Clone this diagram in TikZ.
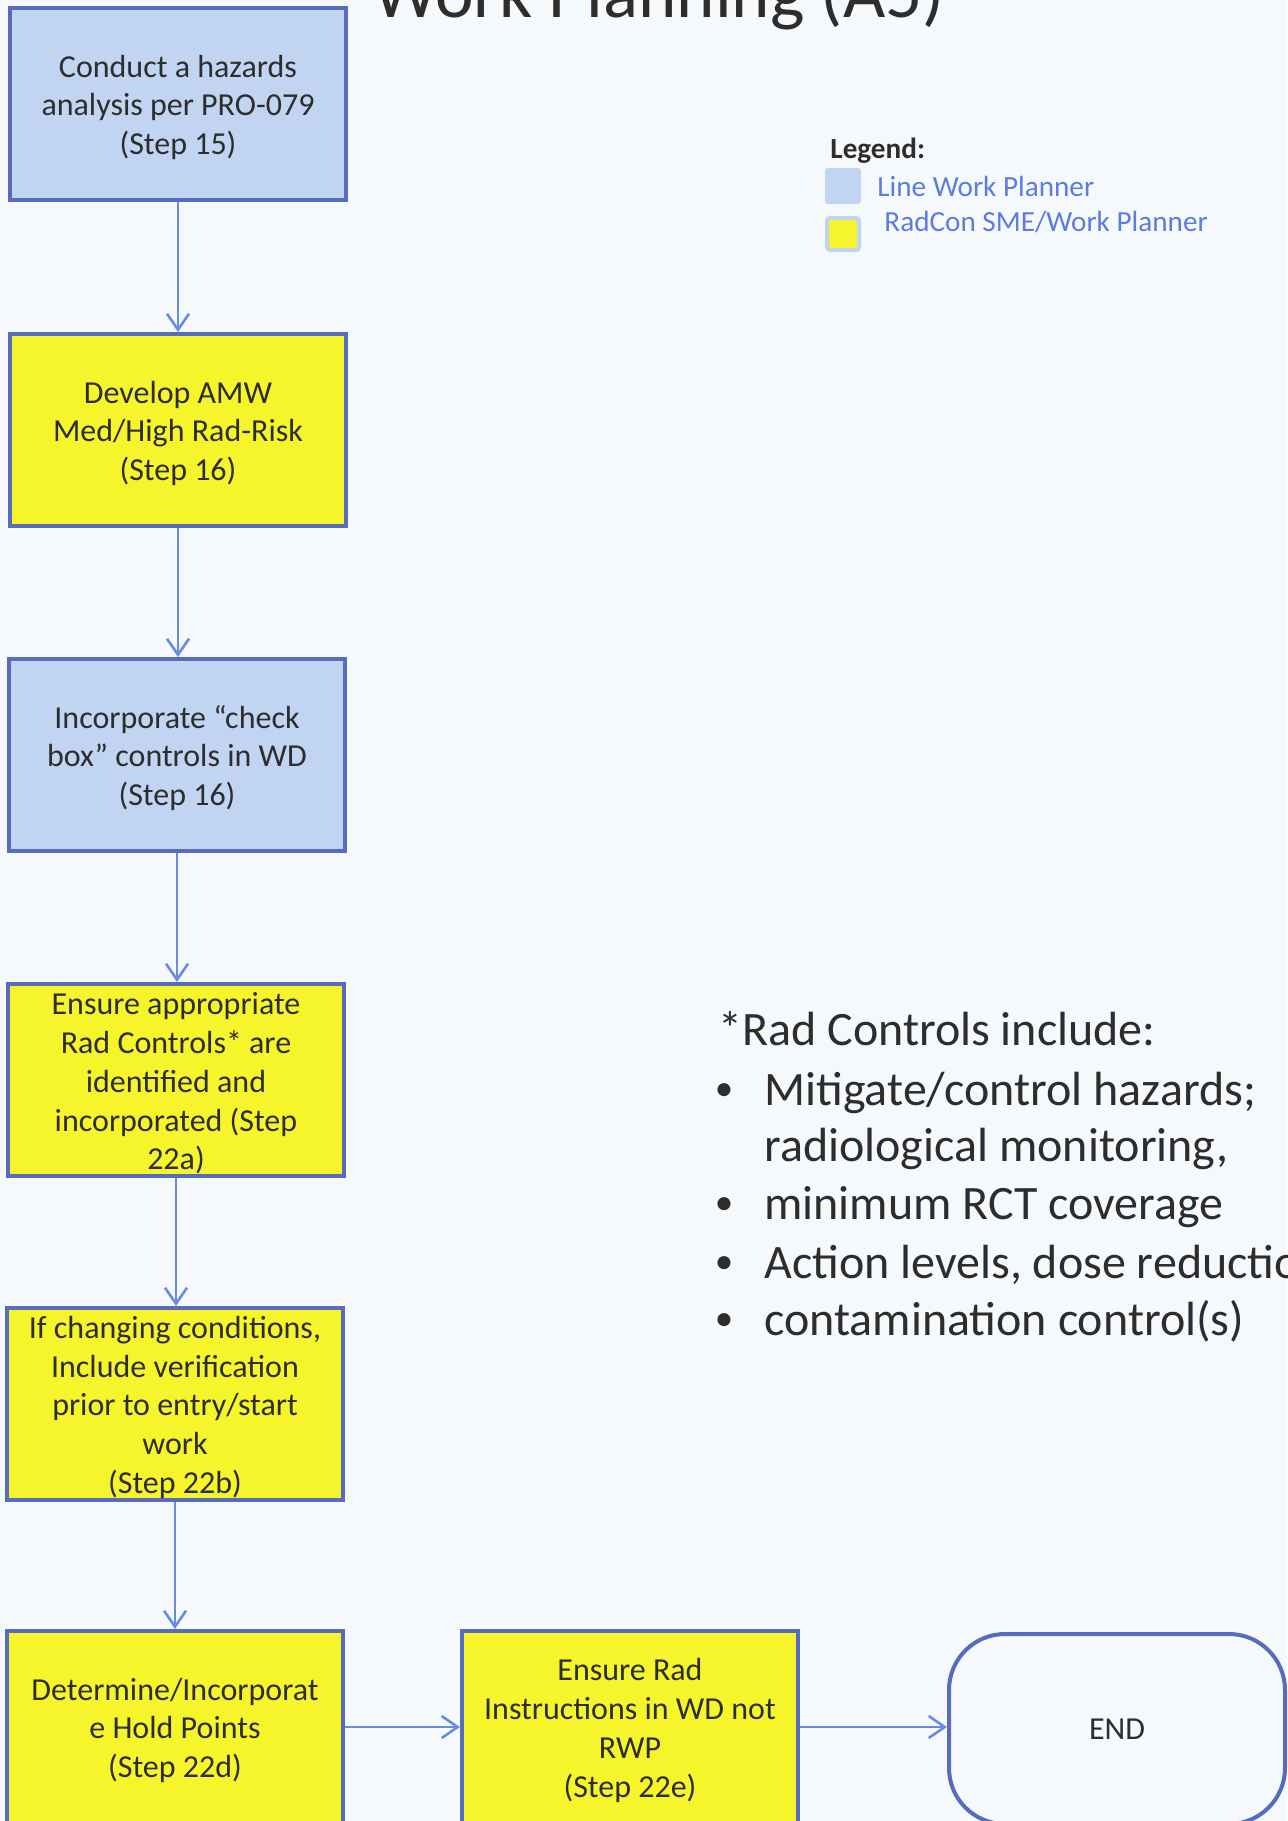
\documentclass[tikz,border=0pt]{standalone}
\usepackage{fontspec}
\setmainfont{Carlito}
\usepackage{tikz}
\usetikzlibrary{positioning, arrows.meta}

\definecolor{paper}{RGB}{246,249,252}
\definecolor{boxline}{RGB}{88,108,190}
\definecolor{plannerblue}{RGB}{193,213,242}
\definecolor{radconyellow}{RGB}{246,244,42}
\definecolor{flowblue}{RGB}{105,140,226}
\definecolor{keytext}{RGB}{92,124,222}
\definecolor{ink}{RGB}{45,45,45}

\newcommand{\notebullet}{\raisebox{2.2pt}{\fontsize{18.5}{20}\selectfont•}}

\tikzset{
  stepbox/.style={draw=boxline, line width=2pt, minimum width=168pt, minimum height=96pt,
    inner xsep=2pt, inner ysep=0pt, align=center, text=ink, font=\fontsize{16}{19.4}\selectfont},
  planner/.style={stepbox, fill=plannerblue},
  radcon/.style={stepbox, fill=radconyellow},
  flow/.style={draw=flowblue, line width=1.3pt, -{Straight Barb[length=8pt, width=11pt]}},
  keylabel/.style={anchor=west, inner sep=0pt, font=\fontsize{14.6}{17}\selectfont},
  note/.style={anchor=base west, inner sep=0pt, text=ink, font=\fontsize{24}{29}\selectfont},
}

\begin{document}
\begin{tikzpicture}[x=0.5pt, y=-0.5pt]
  % page (1 unit = 1 px of the reference)
  \fill[paper] (0,0) rectangle (1287,1821);
  \useasboundingbox (0,0) rectangle (1287,1821);
  \node[anchor=base west, inner sep=0pt, text=ink, font=\fontsize{36.5}{44}\selectfont] (title) at (373,17) {Work Planning (A5)};
  % steps of the flow
  \foreach \n/\x/\y/\kind/\txt in {
    1/178/104/planner/{Conduct a hazards\\analysis per PRO-079\\(Step 15)},
    2/178/430/radcon/{Develop AMW\\Med/High Rad-Risk\\(Step 16)},
    3/177/755/planner/{Incorporate “check\\box” controls in WD\\(Step 16)},
    4/176/1080/radcon/{Ensure appropriate\\Rad Controls* are\\identified and\\incorporated (Step\\22a)},
    5/175/1404/radcon/{If changing conditions,\\Include verification\\prior to entry/start\\work\\(Step 22b)},
    6/175/1727/radcon/{Determine/Incorporat\\e Hold Points\\(Step 22d)},
    7/630/1727/radcon/{Ensure Rad\\Instructions in WD not\\RWP\\(Step 22e)}}{
    \node[\kind] (s\n) at (\x,\y) {\rule{0pt}{14.5pt}\txt};
  }
  \node[stepbox, rounded corners=28pt, minimum height=95pt] (stop) at (1117,1729) {END};
  % connectors
  \foreach \a/\b in {s1/s2, s2/s3, s3/s4, s4/s5, s5/s6}{
    \draw[flow] (\a.south) -- (\a.south |- \b.north);
  }
  \draw[flow] (s6.east) -- (s7.west);
  \draw[flow] (s7.east) -- (s7.east -| stop.west);
  % legend
  \node[keylabel, text=ink, font=\fontsize{14.6}{17}\selectfont\bfseries] (legend) at (830,151) {Legend:};
  \node[fill=plannerblue, minimum size=18pt, inner sep=0pt, rounded corners=1.5pt] (keyline) at (843,186) {};
  \node[draw=plannerblue, line width=2pt, fill=radconyellow, minimum size=16pt, inner sep=0pt, rounded corners=1.5pt] (keyrad) at (843,234) {};
  \node[keylabel, text=keytext] (keylinetext) at (877,186) {Line Work Planner};
  \node[keylabel, text=keytext] (keyradtext) at (884,222) {RadCon SME/Work Planner};
  % footnote on rad controls
  \node[note] (notehead) at (718,1045) {*Rad Controls include:};
  \foreach \i/\y/\b/\txt in {1/1105/\notebullet/{Mitigate/control hazards;}, 2/1161//{radiological monitoring,},
    3/1219/\notebullet/{minimum RCT coverage}, 4/1278/\notebullet/{Action levels, dose reduction}, 5/1335/\notebullet/{contamination control(s)}}{
    \node[note, anchor=base] (bullet\i) at (724,\y) {\b};
    \node[note] (item\i) at (764,\y) {\txt};
  }
\end{tikzpicture}
\end{document}
